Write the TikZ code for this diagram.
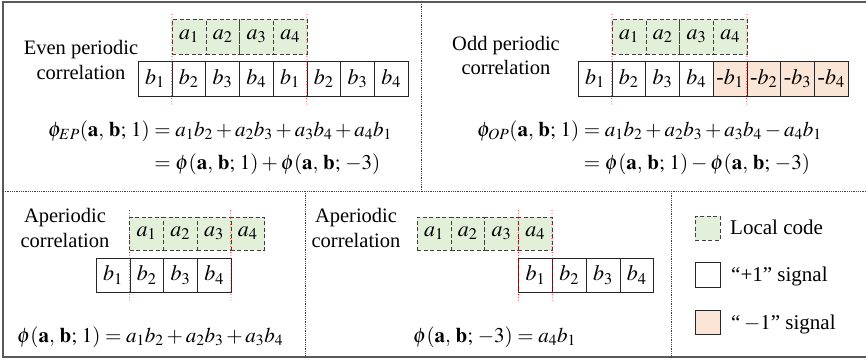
\documentclass[tikz,border=0pt]{standalone}
\usepackage{amsmath}
\usepackage{mathptmx}
\usepackage{fontspec}
\setmainfont{Liberation Serif}
\usepackage{tikz}
\usetikzlibrary{positioning}
\definecolor{localgreen}{RGB}{226,239,217}
\definecolor{negorange}{RGB}{251,229,214}
\tikzstyle{localcell} = [draw=black!75, dash pattern=on 4pt off 2.5pt, fill=localgreen, minimum width=33.75pt, minimum height=35pt, inner sep=0pt, outer sep=0pt, font=\fontsize{22}{26}\selectfont]
\tikzstyle{poscell} = [draw=black!85, fill=white, minimum width=33.75pt, minimum height=35pt, inner sep=0pt, outer sep=0pt, font=\fontsize{22}{26}\selectfont]
\tikzstyle{negcell} = [poscell, fill=negorange]
\tikzstyle{cut} = [red, dotted, line width=0.8pt]
\tikzstyle{divider} = [black!75, densely dotted, thick]
\tikzstyle{heading} = [align=center, font=\fontsize{20.5}{24.5}\selectfont]
\tikzstyle{formula} = [anchor=base west, inner sep=0pt, font=\fontsize{21}{25}\selectfont]
\tikzstyle{keytext} = [anchor=base west, inner sep=0pt, font=\fontsize{21}{25}\selectfont]
\newcommand{\pab}[1]{(\mathbf{a},\,\mathbf{b};\,#1)}

\begin{document}
\begin{tikzpicture}[x=1pt, y=-1pt]
\useasboundingbox (0,0) rectangle (866,359);

% Frame and dividers
\draw [black!65, line width=1.3pt] (870,2) -- (3,2) -- (3,357) -- (870,357);
\draw [divider] (421,2) -- (421,191);
\draw [divider] (3,191) -- (866,191);
\draw [divider] (305,191) -- (305,357);
\draw [divider] (671,191) -- (671,357);

% Even periodic
\node [heading] (evenh) at (81,60) {Even periodic\\correlation};
\node [localcell] (ea1) at (188.9,36.5) {$a_1$};
\node [localcell, right=0pt of ea1] (ea2) {$a_2$};
\node [localcell, right=0pt of ea2] (ea3) {$a_3$};
\node [localcell, right=0pt of ea3] (ea4) {$a_4$};
\node [poscell] (eb1) at (154.9,78.5) {$b_1$};
\node [poscell, right=0pt of eb1] (eb2) {$b_2$};
\node [poscell, right=0pt of eb2] (eb3) {$b_3$};
\node [poscell, right=0pt of eb3] (eb4) {$b_4$};
\node [poscell, right=0pt of eb4] (eb5) {$b_1$};
\node [poscell, right=0pt of eb5] (eb6) {$b_2$};
\node [poscell, right=0pt of eb6] (eb7) {$b_3$};
\node [poscell, right=0pt of eb7] (eb8) {$b_4$};
\draw [cut] ([yshift=5pt]ea1.north west) -- ([yshift=-9pt]eb2.south west);
\draw [cut] ([yshift=5pt]ea4.north east) -- ([yshift=-9pt]eb5.south east);
\node [formula, anchor=west] (evenf) at (48,148) {$\begin{aligned}
  \phi_{EP}\pab{1}&=a_1b_2+a_2b_3+a_3b_4+a_4b_1\\[5pt]
  &=\phi\pab{1}+\phi\pab{-3}
\end{aligned}$};

% Odd periodic
\node [heading] (oddh) at (506,55.5) {Odd periodic\\correlation};
\node [localcell] (oa1) at (628.9,36.5) {$a_1$};
\node [localcell, right=0pt of oa1] (oa2) {$a_2$};
\node [localcell, right=0pt of oa2] (oa3) {$a_3$};
\node [localcell, right=0pt of oa3] (oa4) {$a_4$};
\node [poscell] (ob1) at (594.9,78.5) {$b_1$};
\node [poscell, right=0pt of ob1] (ob2) {$b_2$};
\node [poscell, right=0pt of ob2] (ob3) {$b_3$};
\node [poscell, right=0pt of ob3] (ob4) {$b_4$};
\node [negcell, right=0pt of ob4] (ob5) {-$b_1$};
\node [negcell, right=0pt of ob5] (ob6) {-$b_2$};
\node [negcell, right=0pt of ob6] (ob7) {-$b_3$};
\node [negcell, right=0pt of ob7] (ob8) {-$b_4$};
\draw [cut] ([yshift=5pt]oa1.north west) -- ([yshift=-9pt]ob2.south west);
\draw [cut] ([yshift=5pt]oa4.north east) -- ([yshift=-9pt]ob5.south east);
\node [formula, anchor=west] (oddf) at (477,148) {$\begin{aligned}
  \phi_{OP}\pab{1}&=a_1b_2+a_2b_3+a_3b_4-a_4b_1\\[5pt]
  &=\phi\pab{1}-\phi\pab{-3}
\end{aligned}$};

% Aperiodic, shift 1
\node [heading] (ap1h) at (65,228) {Aperiodic\\correlation};
\node [localcell, minimum height=33pt] (la1) at (146.4,233.5) {$a_1$};
\node [localcell, minimum height=33pt, right=0pt of la1] (la2) {$a_2$};
\node [localcell, minimum height=33pt, right=0pt of la2] (la3) {$a_3$};
\node [localcell, minimum height=33pt, right=0pt of la3] (la4) {$a_4$};
\node [poscell, minimum height=34pt] (lb1) at (112.9,275) {$b_1$};
\node [poscell, minimum height=34pt, right=0pt of lb1] (lb2) {$b_2$};
\node [poscell, minimum height=34pt, right=0pt of lb2] (lb3) {$b_3$};
\node [poscell, minimum height=34pt, right=0pt of lb3] (lb4) {$b_4$};
\draw [cut] ([yshift=7pt]la1.north west) -- ([yshift=-10pt]lb2.south west);
\draw [cut] ([yshift=7pt]la3.north east) -- ([yshift=-10pt]lb4.south east);
\node [formula] (ap1f) at (17,342) {$\phi\pab{1}=a_1b_2+a_2b_3+a_3b_4$};

% Aperiodic, shift -3
\node [heading] (ap3h) at (356,228) {Aperiodic\\correlation};
\node [localcell, minimum height=33pt] (ra1) at (433.9,233.5) {$a_1$};
\node [localcell, minimum height=33pt, right=0pt of ra1] (ra2) {$a_2$};
\node [localcell, minimum height=33pt, right=0pt of ra2] (ra3) {$a_3$};
\node [localcell, minimum height=33pt, right=0pt of ra3] (ra4) {$a_4$};
\node [poscell, minimum height=34pt] (rb1) at (535.4,275) {$b_1$};
\node [poscell, minimum height=34pt, right=0pt of rb1] (rb2) {$b_2$};
\node [poscell, minimum height=34pt, right=0pt of rb2] (rb3) {$b_3$};
\node [poscell, minimum height=34pt, right=0pt of rb3] (rb4) {$b_4$};
\draw [cut] ([yshift=7pt]ra4.north west) -- ([yshift=-10pt]rb1.south west);
\draw [cut] ([yshift=7pt]ra4.north east) -- ([yshift=-10pt]rb1.south east);
\node [formula] (ap3f) at (413,342) {$\phi\pab{-3}=a_4b_1$};

% Legend
\node [localcell, minimum width=25pt, minimum height=24pt] (key1) at (707.5,228) {};
\node [poscell, minimum width=25pt, minimum height=25pt] (key2) at (707.5,274.5) {};
\node [negcell, minimum width=25pt, minimum height=24pt] (key3) at (707.5,322) {};
\node [keytext] (key1t) at (730,234) {Local code};
\node [keytext] (key2t) at (731,281) {“+1”~signal};
\node [keytext] (key3t) at (731,329) {“\,$-1$”~signal};

\end{tikzpicture}
\end{document}
